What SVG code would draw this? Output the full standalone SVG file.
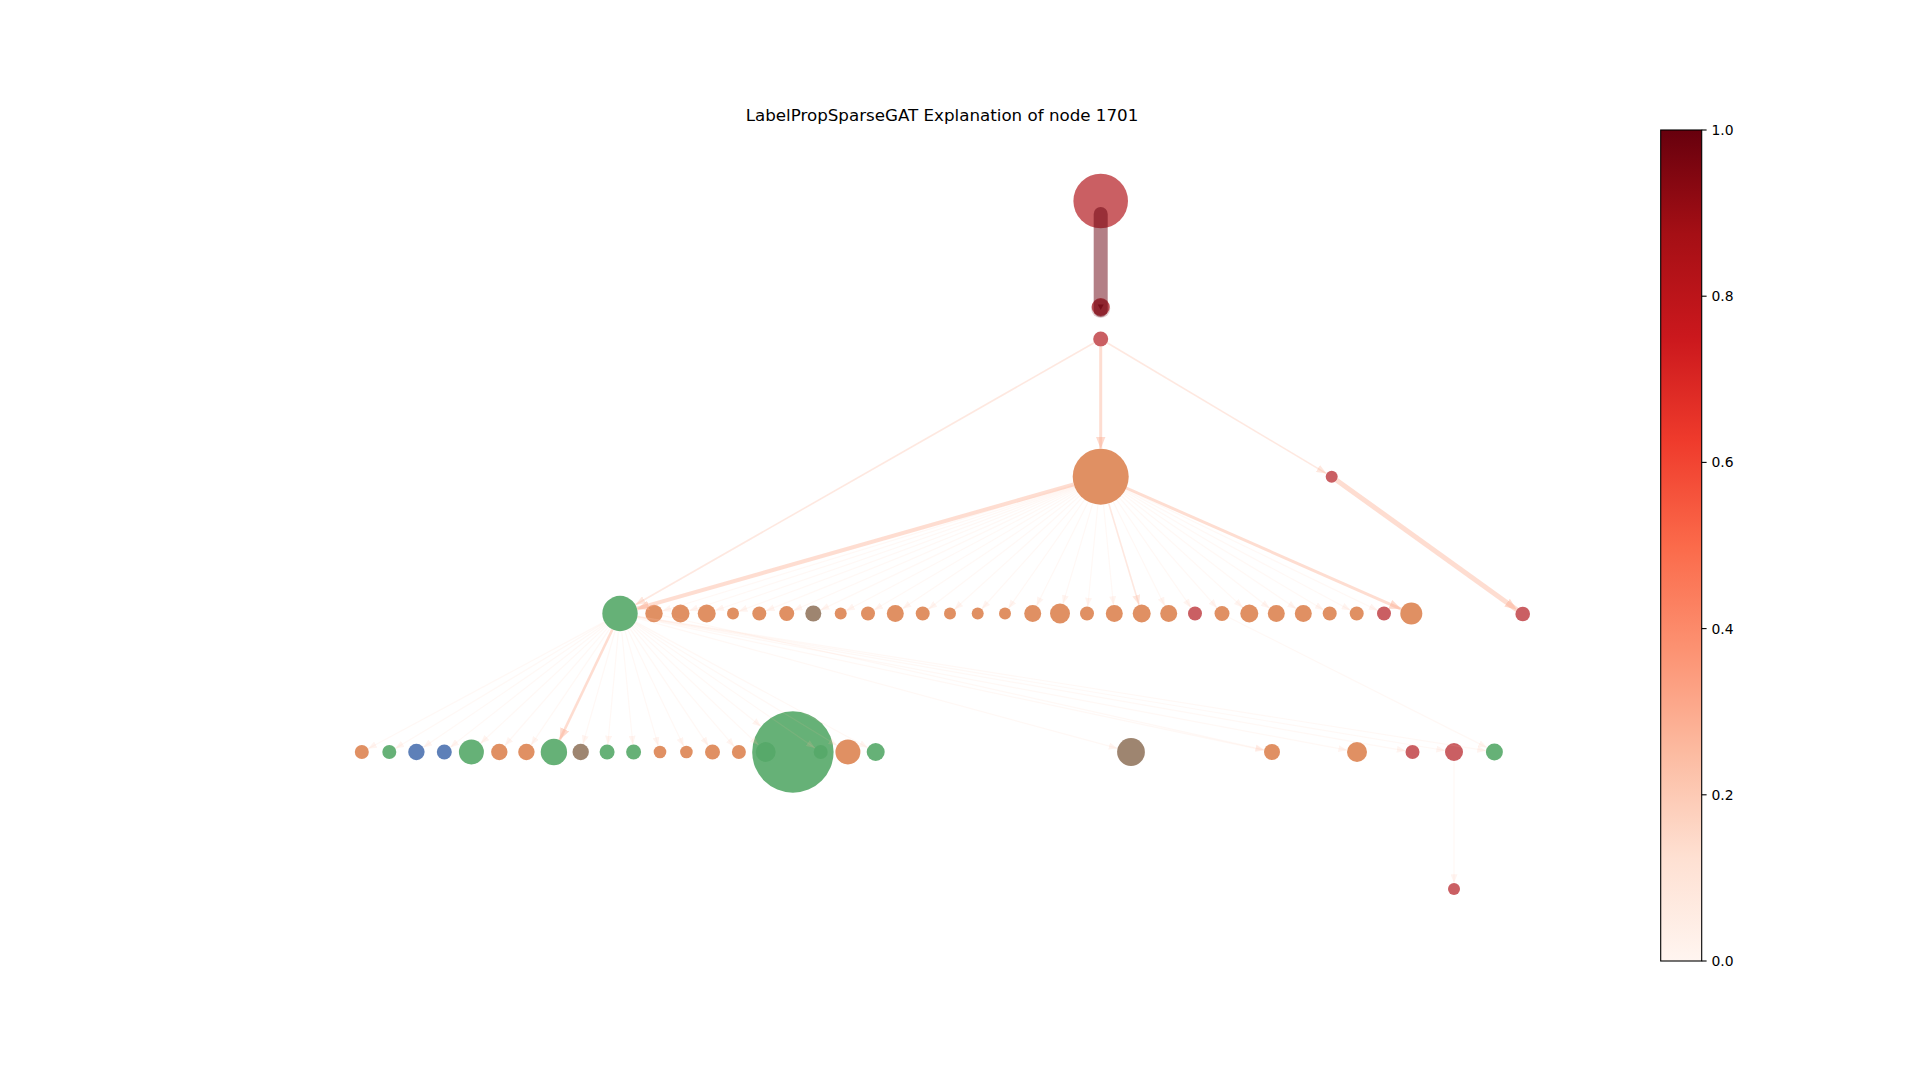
<svg xmlns="http://www.w3.org/2000/svg" width="1920" height="1080" viewBox="0 0 1920 1080">
<defs>
<style>
.t{font-family:"DejaVu Sans","Liberation Sans",sans-serif;fill:#000}
.node circle{fill-opacity:0.9}
.r{fill:#c44e52}.o{fill:#dd8452}.g{fill:#55a868}.b{fill:#4c72b0}.br{fill:#937860}
.ef{stroke:#fcbba1;stroke-opacity:0.11;stroke-width:1.2;fill:none;marker-end:url(#mf)}
.el{stroke:#fcae91;stroke-opacity:0.28;stroke-width:1.6;fill:none;marker-end:url(#ml)}
.em{stroke:#fcae91;stroke-opacity:0.42;fill:none;marker-end:url(#mm)}
</style>
<marker id="mf" viewBox="0 0 10 8" refX="10" refY="4" markerWidth="9" markerHeight="7" markerUnits="userSpaceOnUse" orient="auto"><path d="M0,0 L10,4 L0,8 z" fill="#fcbba1" fill-opacity="0.16"/></marker>
<marker id="ml" viewBox="0 0 10 8" refX="10" refY="4" markerWidth="10" markerHeight="8" markerUnits="userSpaceOnUse" orient="auto"><path d="M0,0 L10,4 L0,8 z" fill="#fcae91" fill-opacity="0.3"/></marker>
<marker id="mm" viewBox="0 0 10 8" refX="10" refY="4" markerWidth="12" markerHeight="10" markerUnits="userSpaceOnUse" orient="auto"><path d="M0,0 L10,4 L0,8 z" fill="#fcae91" fill-opacity="0.45"/></marker>
<linearGradient id="reds" x1="0" y1="1" x2="0" y2="0">
<stop offset="0" stop-color="#fff5f0"/><stop offset="0.125" stop-color="#fee0d2"/><stop offset="0.25" stop-color="#fcbba1"/><stop offset="0.375" stop-color="#fc9272"/><stop offset="0.5" stop-color="#fb6a4a"/><stop offset="0.625" stop-color="#ef3b2c"/><stop offset="0.75" stop-color="#cb181d"/><stop offset="0.875" stop-color="#a50f15"/><stop offset="1" stop-color="#67000d"/>
</linearGradient>
</defs>
<rect width="1920" height="1080" fill="#fff"/>
<text class="t" x="942" y="120.5" font-size="16.7" text-anchor="middle">LabelPropSparseGAT Explanation of node 1701</text>

<g id="nodes">
<g id="n-top" class="node"><circle class="r" cx="1100.7" cy="201" r="27.3"/></g>
<g id="n-a" class="node"><circle class="r" cx="1100.7" cy="307" r="9"/></g>
<g id="n-b" class="node"><circle class="r" cx="1100.7" cy="339" r="7.5"/></g>
<g id="n-c" class="node"><circle class="o" cx="1100.7" cy="476.7" r="28"/></g>
<g id="n-d" class="node"><circle class="r" cx="1331.7" cy="476.7" r="6"/></g>
<g id="n-g1" class="node"><circle class="g" cx="620" cy="613.5" r="17.7"/></g>
<g id="r1-1" class="node"><circle class="o" cx="654" cy="613.5" r="8.7"/></g>
<g id="r1-2" class="node"><circle class="o" cx="680.5" cy="613.5" r="9"/></g>
<g id="r1-3" class="node"><circle class="o" cx="706.7" cy="613.5" r="9"/></g>
<g id="r1-4" class="node"><circle class="o" cx="733" cy="613.5" r="6"/></g>
<g id="r1-5" class="node"><circle class="o" cx="759.3" cy="613.5" r="7"/></g>
<g id="r1-6" class="node"><circle class="o" cx="786.7" cy="613.5" r="7.5"/></g>
<g id="r1-7" class="node"><circle class="br" cx="813.3" cy="613.5" r="8"/></g>
<g id="r1-8" class="node"><circle class="o" cx="840.7" cy="613.5" r="6"/></g>
<g id="r1-9" class="node"><circle class="o" cx="868" cy="613.5" r="7"/></g>
<g id="r1-10" class="node"><circle class="o" cx="895.3" cy="613.5" r="8.5"/></g>
<g id="r1-11" class="node"><circle class="o" cx="922.7" cy="613.5" r="7"/></g>
<g id="r1-12" class="node"><circle class="o" cx="950" cy="613.5" r="6"/></g>
<g id="r1-13" class="node"><circle class="o" cx="977.7" cy="613.5" r="6"/></g>
<g id="r1-14" class="node"><circle class="o" cx="1005" cy="613.5" r="6"/></g>
<g id="r1-15" class="node"><circle class="o" cx="1032.7" cy="613.5" r="8.5"/></g>
<g id="r1-16" class="node"><circle class="o" cx="1060" cy="613.5" r="10"/></g>
<g id="r1-17" class="node"><circle class="o" cx="1087" cy="613.5" r="7"/></g>
<g id="r1-18" class="node"><circle class="o" cx="1114.3" cy="613.5" r="8.5"/></g>
<g id="r1-19" class="node"><circle class="o" cx="1141.7" cy="613.5" r="9"/></g>
<g id="r1-20" class="node"><circle class="o" cx="1168.7" cy="613.5" r="8.5"/></g>
<g id="r1-21" class="node"><circle class="r" cx="1195" cy="613.5" r="7"/></g>
<g id="r1-22" class="node"><circle class="o" cx="1222" cy="613.5" r="7.5"/></g>
<g id="r1-23" class="node"><circle class="o" cx="1249.3" cy="613.5" r="9"/></g>
<g id="r1-24" class="node"><circle class="o" cx="1276.3" cy="613.5" r="8.5"/></g>
<g id="r1-25" class="node"><circle class="o" cx="1303.3" cy="613.5" r="8.5"/></g>
<g id="r1-26" class="node"><circle class="o" cx="1329.7" cy="613.5" r="7"/></g>
<g id="r1-27" class="node"><circle class="o" cx="1356.7" cy="613.5" r="7"/></g>
<g id="r1-28" class="node"><circle class="r" cx="1384" cy="613.5" r="7"/></g>
<g id="r1-29" class="node"><circle class="o" cx="1411.3" cy="613.5" r="11"/></g>
<g id="r1-30" class="node"><circle class="r" cx="1522.7" cy="614" r="7.3"/></g>
<g id="r2-1" class="node"><circle class="o" cx="361.8" cy="752" r="7"/></g>
<g id="r2-2" class="node"><circle class="g" cx="389.3" cy="752" r="7"/></g>
<g id="r2-3" class="node"><circle class="b" cx="416.4" cy="752" r="8.2"/></g>
<g id="r2-4" class="node"><circle class="b" cx="444.3" cy="752" r="7.5"/></g>
<g id="r2-5" class="node"><circle class="g" cx="471.4" cy="752" r="12.5"/></g>
<g id="r2-6" class="node"><circle class="o" cx="499.3" cy="752" r="8.2"/></g>
<g id="r2-7" class="node"><circle class="o" cx="526.4" cy="752" r="8.2"/></g>
<g id="r2-8" class="node"><circle class="g" cx="553.9" cy="752" r="13.2"/></g>
<g id="r2-9" class="node"><circle class="br" cx="580.7" cy="752" r="8.2"/></g>
<g id="r2-10" class="node"><circle class="g" cx="607.1" cy="752" r="7.5"/></g>
<g id="r2-11" class="node"><circle class="g" cx="633.6" cy="752" r="7.5"/></g>
<g id="r2-12" class="node"><circle class="o" cx="660" cy="752" r="6.3"/></g>
<g id="r2-13" class="node"><circle class="o" cx="686.4" cy="752" r="6.3"/></g>
<g id="r2-14" class="node"><circle class="o" cx="712.5" cy="752" r="7.5"/></g>
<g id="r2-15" class="node"><circle class="o" cx="738.9" cy="752" r="7"/></g>
<g id="r2-16" class="node"><circle class="g" cx="765.7" cy="752" r="10"/></g>
<g id="r2-17" class="node"><circle class="g" cx="792.9" cy="752" r="40.7"/></g>
<g id="r2-18" class="node"><circle class="g" cx="820.7" cy="752" r="7"/></g>
<g id="r2-19" class="node"><circle class="o" cx="847.9" cy="752" r="12.5"/></g>
<g id="r2-20" class="node"><circle class="g" cx="875.7" cy="752" r="9"/></g>
<g id="r2-21" class="node"><circle class="br" cx="1131" cy="752" r="13.9"/></g>
<g id="r2-22" class="node"><circle class="o" cx="1272" cy="752" r="8"/></g>
<g id="r2-23" class="node"><circle class="o" cx="1357" cy="752" r="10"/></g>
<g id="r2-24" class="node"><circle class="r" cx="1412.5" cy="752" r="7"/></g>
<g id="r2-25" class="node"><circle class="r" cx="1454" cy="752" r="9"/></g>
<g id="r2-26" class="node"><circle class="g" cx="1494.4" cy="752" r="8.5"/></g>
<g id="r3-1" class="node"><circle class="r" cx="1454" cy="889" r="6"/></g>
</g>

<g id="edges">
<line x1="1100.7" y1="214" x2="1100.7" y2="310" stroke="#67000d" stroke-opacity="0.5" stroke-width="14" stroke-linecap="round"/>
<circle cx="1100.7" cy="308.5" r="9.5" fill="#67000d" fill-opacity="0.2"/>
<path d="M1097.7,304.5 L1103.7,304.5 L1100.7,310 z" fill="#67000d" fill-opacity="0.6"/>
<line class="em" stroke-width="3" stroke-opacity="0.35" x1="1100.7" y1="346.5" x2="1100.7" y2="448.7"/>
<line class="el" x1="1094.2" y1="342.7" x2="635.4" y2="604.7"/>
<line class="el" stroke-width="1.8" x1="1107.1" y1="342.8" x2="1326.5" y2="473.6"/>
<line class="em" stroke-width="5" x1="1336.6" y1="480.2" x2="1516.8" y2="609.7"/>
<line class="em" stroke-width="4" x1="1073.8" y1="484.4" x2="637" y2="608.7"/>
<line class="em" stroke-width="3" x1="1126.3" y1="488" x2="1401.2" y2="609.1"/>
<line class="el" stroke-width="1.3" stroke-opacity="0.22" x1="1108.7" y1="503.5" x2="1139.1" y2="604.9"/>
<line class="ef" x1="1073.9" y1="484.9" x2="662.3" y2="611"/>
<line class="ef" x1="1074.1" y1="485.4" x2="689.1" y2="610.7"/>
<line class="ef" x1="1074.3" y1="485.9" x2="715.2" y2="610.5"/>
<line class="ef" x1="1074.5" y1="486.5" x2="738.6" y2="611.4"/>
<line class="ef" x1="1074.7" y1="487.1" x2="765.8" y2="610.9"/>
<line class="ef" x1="1075" y1="487.9" x2="793.6" y2="610.5"/>
<line class="ef" stroke-width="1.6" x1="1075.4" y1="488.7" x2="820.5" y2="610.1"/>
<line class="ef" x1="1075.9" y1="489.7" x2="846" y2="610.7"/>
<line class="ef" x1="1076.6" y1="490.9" x2="874" y2="610"/>
<line class="ef" x1="1077.4" y1="492.2" x2="902.4" y2="608.8"/>
<line class="ef" x1="1078.5" y1="493.8" x2="928.3" y2="609.2"/>
<line class="ef" x1="1080" y1="495.5" x2="954.4" y2="609.5"/>
<line class="ef" x1="1082" y1="497.5" x2="981.7" y2="609"/>
<line class="ef" x1="1084.6" y1="499.6" x2="1008.4" y2="608.6"/>
<line class="ef" x1="1088.2" y1="501.8" x2="1036.5" y2="605.9"/>
<line class="ef" x1="1092.7" y1="503.5" x2="1062.9" y2="603.9"/>
<line class="ef" x1="1097.9" y1="504.6" x2="1087.7" y2="606.5"/>
<line class="ef" x1="1103.5" y1="504.6" x2="1113.5" y2="605"/>
<line class="ef" x1="1113.2" y1="501.8" x2="1164.9" y2="605.9"/>
<line class="ef" x1="1116.6" y1="499.7" x2="1191" y2="607.7"/>
<line class="ef" x1="1119.3" y1="497.7" x2="1217" y2="607.9"/>
<line class="ef" x1="1121.3" y1="495.7" x2="1242.7" y2="607.4"/>
<line class="ef" x1="1122.8" y1="493.9" x2="1269.6" y2="608.3"/>
<line class="ef" stroke-width="1.6" x1="1123.9" y1="492.4" x2="1296.3" y2="608.7"/>
<line class="ef" stroke-width="1.6" x1="1124.7" y1="491.1" x2="1323.7" y2="609.9"/>
<line class="ef" stroke-width="1.6" x1="1125.4" y1="489.9" x2="1350.5" y2="610.2"/>
<line class="ef" stroke-width="1.6" x1="1125.9" y1="488.9" x2="1377.7" y2="610.5"/>
<line class="ef" x1="604.4" y1="621.9" x2="368" y2="748.7"/>
<line class="ef" x1="604.8" y1="622.6" x2="395.3" y2="748.4"/>
<line class="ef" x1="605.4" y1="623.5" x2="423.2" y2="747.4"/>
<line class="ef" x1="606.1" y1="624.5" x2="450.2" y2="747.4"/>
<line class="ef" x1="607" y1="625.6" x2="480.5" y2="743.5"/>
<line class="ef" x1="608.4" y1="626.8" x2="504.7" y2="745.8"/>
<line class="ef" x1="610.1" y1="628.2" x2="531" y2="745.2"/>
<line class="em" stroke-width="2.6" x1="612.4" y1="629.5" x2="559.6" y2="740.1"/>
<line class="ef" x1="615.2" y1="630.5" x2="582.9" y2="744.1"/>
<line class="ef" x1="618.4" y1="631.1" x2="607.8" y2="744.5"/>
<line class="ef" x1="621.7" y1="631.1" x2="632.9" y2="744.5"/>
<line class="ef" x1="624.9" y1="630.5" x2="658.3" y2="745.9"/>
<line class="ef" x1="627.7" y1="629.5" x2="683.7" y2="746.3"/>
<line class="ef" x1="629.8" y1="628.2" x2="708.3" y2="745.8"/>
<line class="ef" x1="631.5" y1="626.9" x2="734.3" y2="746.7"/>
<line class="ef" x1="632.8" y1="625.7" x2="758.5" y2="745.1"/>
<line class="ef" stroke-width="1.5" x1="633.8" y1="624.6" x2="761.1" y2="726.5"/>
<line class="ef" x1="634.6" y1="623.6" x2="814.9" y2="748"/>
<line class="ef" x1="635.1" y1="622.7" x2="837.2" y2="745.5"/>
<line class="ef" x1="635.6" y1="621.9" x2="867.8" y2="747.7"/>
<line class="ef" x1="637.1" y1="618.1" x2="1117.6" y2="748.4"/>
<line class="ef" x1="637.3" y1="617.2" x2="1264.2" y2="750.3"/>
<line class="ef" stroke-width="1.5" x1="637.4" y1="616.8" x2="1347.2" y2="750.2"/>
<line class="ef" x1="637.4" y1="616.5" x2="1405.6" y2="750.8"/>
<line class="ef" x1="637.5" y1="616.4" x2="1445.1" y2="750.5"/>
<line class="ef" x1="637.5" y1="616.3" x2="1486" y2="750.7"/>
<line class="ef" x1="662.5" y1="615.5" x2="1264.3" y2="749.8"/>
<line class="ef" x1="1228.5" y1="617.2" x2="1487" y2="747.6"/>
<line class="ef" x1="1454" y1="761" x2="1454" y2="883"/>
</g>

<g id="colorbar">
<rect x="1660.7" y="130" width="41" height="831" fill="url(#reds)" stroke="#000" stroke-width="1.1"/>
<g stroke="#000" stroke-width="1.1">
<line x1="1701.7" y1="130" x2="1706.6" y2="130"/>
<line x1="1701.7" y1="296.2" x2="1706.6" y2="296.2"/>
<line x1="1701.7" y1="462.4" x2="1706.6" y2="462.4"/>
<line x1="1701.7" y1="628.6" x2="1706.6" y2="628.6"/>
<line x1="1701.7" y1="794.8" x2="1706.6" y2="794.8"/>
<line x1="1701.7" y1="961" x2="1706.6" y2="961"/>
</g>
<g class="t" font-size="13.9" dominant-baseline="central">
<text x="1711.5" y="130">1.0</text>
<text x="1711.5" y="296.2">0.8</text>
<text x="1711.5" y="462.4">0.6</text>
<text x="1711.5" y="628.6">0.4</text>
<text x="1711.5" y="794.8">0.2</text>
<text x="1711.5" y="961">0.0</text>
</g>
</g>
</svg>
